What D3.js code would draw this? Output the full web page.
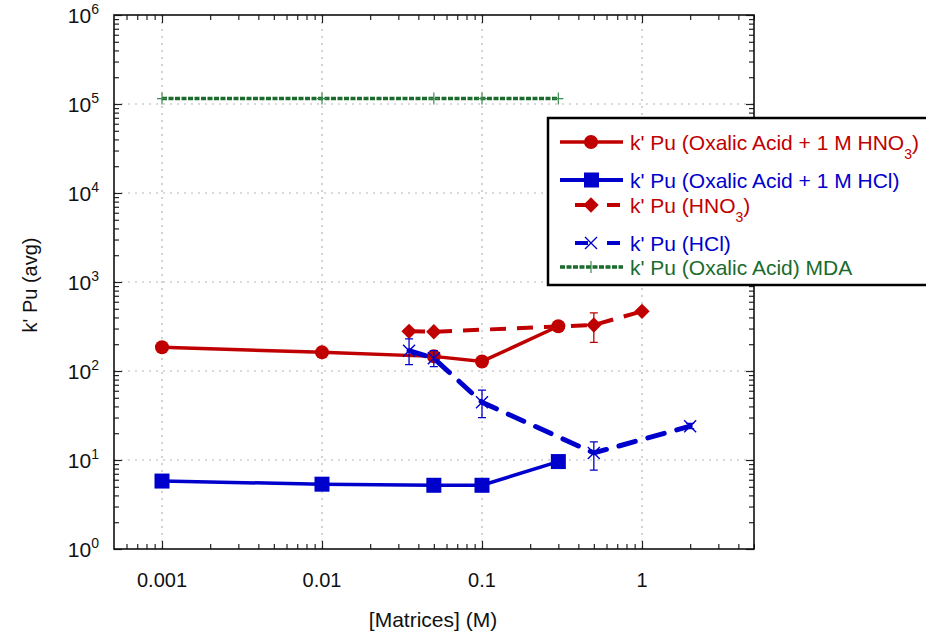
<!DOCTYPE html>
<html><head><meta charset="utf-8">
<script src="https://cdn.jsdelivr.net/npm/d3@7"></script>
<style>body{margin:0;background:#fff}svg{display:block}text{font-family:"Liberation Sans",Arial,sans-serif}</style>
</head><body><div id="chart"></div>
<script>
// ---- data ----
const xOxHNO3 = [0.001, 0.01, 0.05, 0.1, 0.3];
const yOxHNO3 = [185, 162, 146, 128, 318];
const xOxHCl = [0.001, 0.01, 0.05, 0.1, 0.3];
const yOxHCl = [5.8, 5.35, 5.2, 5.2, 9.6];
const xHNO3 = [0.035, 0.05, 0.5, 1];
const yHNO3 = [279, 276, 329, 468];
const errLoHNO3 = [null, null, 210, null];
const errHiHNO3 = [null, null, 449, null];
const xHCl = [0.035, 0.05, 0.1, 0.5, 2];
const yHCl = [169, 139, 44.5, 12, 24];
const errLoHCl = [118, 112, 30, 7.7, 22.5];
const errHiHCl = [229, 169, 61, 16, 25.8];
const xMDA = [0.001, 0.01, 0.05, 0.1, 0.3];
const yMDA = [115000, 115000, 115000, 115000, 115000];
const xTickVals = [0.001, 0.01, 0.1, 1];
const xTickLabels = ["0.001", "0.01", "0.1", "1"];
const yTickExps = [0, 1, 2, 3, 4, 5, 6];
const legendLabels = [
  ["k' Pu (Oxalic Acid + 1 M HNO", "3", ")"],
  ["k' Pu (Oxalic Acid + 1 M HCl)", "", ""],
  ["k' Pu (HNO", "3", ")"],
  ["k' Pu (HCl)", "", ""],
  ["k' Pu (Oxalic Acid) MDA", "", ""]
];

const RED = "#c00000", BLUE = "#0000cc", GREEN = "#1a6b2c";
const W = 926, H = 633;
const L = 114, R = 754, T = 15, B = 549;

const svg = d3.select("#chart").append("svg").attr("width", W).attr("height", H);
const x = d3.scaleLog().domain([Math.pow(10, -3.3), Math.pow(10, 0.7)]).range([L, R]);
const y = d3.scaleLog().domain([1, 1e6]).range([B, T]);

// grid
const gridX = svg.append("g");
xTickVals.forEach(v => gridX.append("line").attr("x1", x(v)).attr("x2", x(v)).attr("y1", T).attr("y2", B)
  .attr("stroke", "#b5b5b5").attr("stroke-width", 1.2).attr("stroke-dasharray", "2,5"));
yTickExps.slice(1, -1).forEach(e => gridX.append("line").attr("x1", L).attr("x2", R).attr("y1", y(Math.pow(10, e))).attr("y2", y(Math.pow(10, e)))
  .attr("stroke", "#b5b5b5").attr("stroke-width", 1.2).attr("stroke-dasharray", "2,5"));

// axes with inward ticks on all sides
const minorX = x.ticks().filter(v => !xTickVals.includes(v));
const minorY = y.ticks().filter(v => !yTickExps.map(e => Math.pow(10, e)).includes(v));
function axisG(axis, tx, ty) {
  const g = svg.append("g").attr("transform", `translate(${tx},${ty})`).call(axis);
  g.selectAll("text").remove();
  g.select(".domain").remove();
  g.selectAll("line").attr("stroke", "#222").attr("stroke-width", 1.2);
  return g;
}
axisG(d3.axisBottom(x).tickValues(xTickVals).tickSizeInner(-8).tickSizeOuter(0), 0, B);
axisG(d3.axisBottom(x).tickValues(minorX).tickSizeInner(-5).tickSizeOuter(0), 0, B);
axisG(d3.axisTop(x).tickValues(xTickVals).tickSizeInner(-8).tickSizeOuter(0), 0, T);
axisG(d3.axisTop(x).tickValues(minorX).tickSizeInner(-5).tickSizeOuter(0), 0, T);
axisG(d3.axisLeft(y).tickValues(yTickExps.map(e => Math.pow(10, e))).tickSizeInner(-8).tickSizeOuter(0), L, 0);
axisG(d3.axisLeft(y).tickValues(minorY).tickSizeInner(-5).tickSizeOuter(0), L, 0);
axisG(d3.axisRight(y).tickValues(yTickExps.map(e => Math.pow(10, e))).tickSizeInner(-8).tickSizeOuter(0), R, 0);
axisG(d3.axisRight(y).tickValues(minorY).tickSizeInner(-5).tickSizeOuter(0), R, 0);
svg.append("rect").attr("x", L).attr("y", T).attr("width", R - L).attr("height", B - T)
  .attr("fill", "none").attr("stroke", "#111").attr("stroke-width", 1.6);

// tick labels
xTickVals.forEach((v, i) => svg.append("text").attr("x", x(v)).attr("y", 587).attr("text-anchor", "middle")
  .attr("font-size", 20).attr("fill", "#111").text(xTickLabels[i]));
yTickExps.forEach(e => {
  const t = svg.append("text").attr("x", 99).attr("y", y(Math.pow(10, e)) + 7.5).attr("text-anchor", "end")
    .attr("font-size", 21).attr("fill", "#111");
  t.append("tspan").text("10");
  t.append("tspan").attr("dy", -9).attr("font-size", 14).text(String(e));
});
svg.append("text").attr("x", 433).attr("y", 627).attr("text-anchor", "middle").attr("font-size", 21).attr("fill", "#111").text("[Matrices] (M)");
svg.append("text").attr("transform", "translate(37,285) rotate(-90)").attr("text-anchor", "middle").attr("font-size", 20).attr("fill", "#111").text("k' Pu (avg)");

const line = d3.line().x(d => x(d[0])).y(d => y(d[1]));
const zip = (a, b) => a.map((v, i) => [v, b[i]]);

// MDA
svg.append("path").attr("d", line(zip(xMDA, yMDA))).attr("fill", "none").attr("stroke", GREEN)
  .attr("stroke-width", 3.5).attr("stroke-dasharray", "5,1.5");
zip(xMDA, yMDA).forEach(d => svg.append("path").attr("d", `M${x(d[0]) - 5},${y(d[1])}h10M${x(d[0])},${y(d[1]) - 6}v12`)
  .attr("stroke", "#3f8a50").attr("stroke-width", 1.2));

// error bars helper
function errBars(xs, lo, hi, color) {
  xs.forEach((v, i) => {
    if (lo[i] == null) return;
    const cx = x(v), y1 = y(lo[i]), y2 = y(hi[i]);
    svg.append("path").attr("d", `M${cx},${y1}V${y2}M${cx - 4},${y1}h8M${cx - 4},${y2}h8`)
      .attr("stroke", color).attr("stroke-width", 1.3).attr("fill", "none");
  });
}

// Oxalic + HCl (blue solid squares)
svg.append("path").attr("d", line(zip(xOxHCl, yOxHCl))).attr("fill", "none").attr("stroke", BLUE).attr("stroke-width", 3.5);
zip(xOxHCl, yOxHCl).forEach(d => svg.append("rect").attr("x", x(d[0]) - 7.5).attr("y", y(d[1]) - 7.5).attr("width", 15).attr("height", 15).attr("fill", BLUE));

// HNO3 dashed diamonds
svg.append("path").attr("d", line(zip(xHNO3, yHNO3))).attr("fill", "none").attr("stroke", RED).attr("stroke-width", 4).attr("stroke-dasharray", "16,11");
errBars(xHNO3, errLoHNO3, errHiHNO3, RED);
zip(xHNO3, yHNO3).forEach(d => svg.append("path").attr("d", d3.symbol(d3.symbolDiamond2, 150)()).attr("transform", `translate(${x(d[0])},${y(d[1])})`).attr("fill", RED));

// Oxalic + HNO3 (red solid circles)
svg.append("path").attr("d", line(zip(xOxHNO3, yOxHNO3))).attr("fill", "none").attr("stroke", RED).attr("stroke-width", 3.5);
zip(xOxHNO3, yOxHNO3).forEach(d => svg.append("circle").attr("cx", x(d[0])).attr("cy", y(d[1])).attr("r", 7).attr("fill", RED));

// HCl dashed with X
svg.append("path").attr("d", line(zip(xHCl, yHCl))).attr("fill", "none").attr("stroke", BLUE).attr("stroke-width", 5).attr("stroke-dasharray", "17,13").attr("stroke-linecap", "round");
errBars(xHCl, errLoHCl, errHiHCl, BLUE);
zip(xHCl, yHCl).forEach(d => svg.append("path").attr("d", `M${x(d[0]) - 6},${y(d[1]) - 6}l12,12M${x(d[0]) - 6},${y(d[1]) + 6}l12,-12`)
  .attr("stroke", BLUE).attr("stroke-width", 1.4));

// legend
const lg = svg.append("g");
lg.append("rect").attr("x", 548).attr("y", 118).attr("width", 400).attr("height", 167).attr("fill", "#fff").attr("stroke", "#000").attr("stroke-width", 2.5);
const rows = [142, 180, 205, 243, 267];
const colors = [RED, BLUE, RED, BLUE, GREEN];
lg.append("line").attr("x1", 560).attr("x2", 623).attr("y1", rows[0]).attr("y2", rows[0]).attr("stroke", RED).attr("stroke-width", 3.5);
lg.append("circle").attr("cx", 591).attr("cy", rows[0]).attr("r", 7).attr("fill", RED);
lg.append("line").attr("x1", 560).attr("x2", 623).attr("y1", rows[1]).attr("y2", rows[1]).attr("stroke", BLUE).attr("stroke-width", 4);
lg.append("rect").attr("x", 584).attr("y", rows[1] - 7.5).attr("width", 15).attr("height", 15).attr("fill", BLUE);
lg.append("line").attr("x1", 575).attr("x2", 620).attr("y1", rows[2]).attr("y2", rows[2]).attr("stroke", RED).attr("stroke-width", 4).attr("stroke-dasharray", "13,19");
lg.append("path").attr("d", d3.symbol(d3.symbolDiamond2, 150)()).attr("transform", `translate(591,${rows[2]})`).attr("fill", RED);
lg.append("line").attr("x1", 575).attr("x2", 620).attr("y1", rows[3]).attr("y2", rows[3]).attr("stroke", BLUE).attr("stroke-width", 4).attr("stroke-dasharray", "13,19");
lg.append("path").attr("d", `M585,${rows[3] - 6}l12,12M585,${rows[3] + 6}l12,-12`).attr("stroke", BLUE).attr("stroke-width", 1.4);
lg.append("line").attr("x1", 560).attr("x2", 623).attr("y1", rows[4]).attr("y2", rows[4]).attr("stroke", GREEN).attr("stroke-width", 3.5).attr("stroke-dasharray", "5,1.5");
lg.append("path").attr("d", `M591,${rows[4] - 6}v12`).attr("stroke", "#3f8a50").attr("stroke-width", 1.2);
legendLabels.forEach((lab, i) => {
  const t = lg.append("text").attr("x", 630).attr("y", rows[i] + 7.5).attr("font-size", 21).attr("fill", colors[i]);
  t.append("tspan").text(lab[0]);
  if (lab[1]) {
    t.append("tspan").attr("dy", 9).attr("font-size", 14).text(lab[1]);
    t.append("tspan").attr("dy", -9).text(lab[2]);
  }
});
</script></body></html>
